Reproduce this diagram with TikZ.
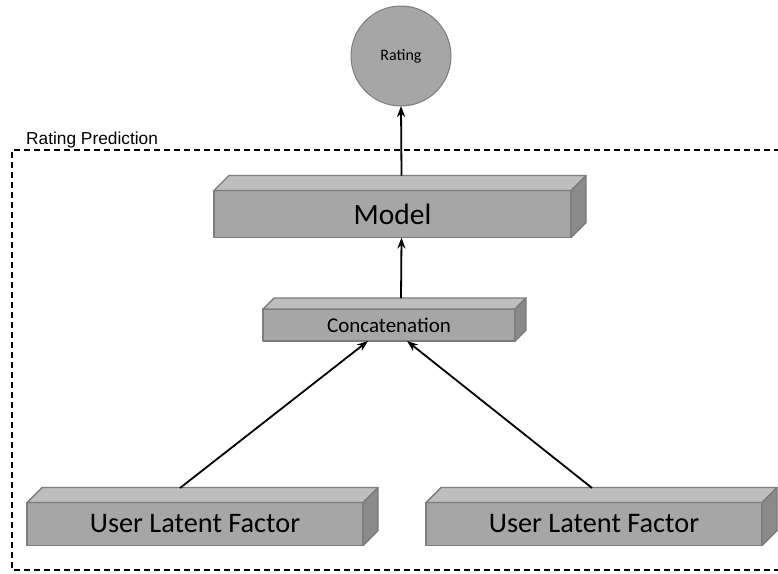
\documentclass[tikz,border=0pt]{standalone}
\usepackage{fontspec}
\setmainfont{Carlito}
\newfontfamily\arialfont{Liberation Sans}
\usetikzlibrary{arrows.meta}
\definecolor{frontc}{HTML}{A6A6A6}
\definecolor{topc}{HTML}{BEBEBE}
\definecolor{sidec}{HTML}{8A8A8A}
\definecolor{edgec}{HTML}{7C7C7C}
\tikzset{
  face/.style={draw=edgec, line width=1.4pt, line join=round},
  frontbox/.style={face, fill=frontc, rectangle, inner sep=0pt, outer sep=0pt, text=black},
  conn/.style={line width=1.8pt, -{Stealth[length=11pt,width=8pt]}},
  frame/.style={line width=1.1pt, dash pattern=on 6pt off 4pt},
}
% #1 name, #2 d (depth)
\newcommand\prismfaces[2]{%
  \filldraw[face, fill=topc] (#1.north west) -- ([shift={(#2,-#2)}]#1.north west) -- ([shift={(#2,-#2)}]#1.north east) -- (#1.north east) -- cycle;
  \filldraw[face, fill=sidec] (#1.north east) -- ([shift={(#2,-#2)}]#1.north east) -- ([shift={(#2,-#2)}]#1.south east) -- (#1.south east) -- cycle;
}
\begin{document}
\begin{tikzpicture}[x=1pt,y=-1pt]
\useasboundingbox (0,0) rectangle (778,573);
% frame
\draw[frame] (790,150) -- (12,150) -- (12,570) -- (790,570);
\node[anchor=base west, inner sep=0pt, font=\arialfont\fontsize{17.3}{19}\selectfont] (lbl) at (26,144) {Rating Prediction};
% rating circle
\node[circle, draw=edgec, line width=1pt, fill=frontc, minimum size=100pt, inner sep=0pt, outer sep=0pt, font=\fontsize{16}{18}\selectfont] (rating) at (401,56) {Rating};
% model
\node[frontbox, minimum width=357pt, minimum height=47pt, font=\fontsize{29.5}{32}\selectfont] (model) at (392.5,214) {Model};
\prismfaces{model}{15}
\coordinate (modeltop) at ([shift={(9,-15)}]model.north);
% concatenation
\node[frontbox, minimum width=252pt, minimum height=32pt, font=\fontsize{21}{24}\selectfont] (concat) at (389,325) {Concatenation};
\prismfaces{concat}{11}
\coordinate (concattop) at ([shift={(12,-11)}]concat.north);
% user latent factors
\node[frontbox, minimum width=336pt, minimum height=43pt, font=\fontsize{28.3}{31}\selectfont] (ulf1) at (195,524) {User Latent Factor};
\prismfaces{ulf1}{15}
\node[frontbox, minimum width=336pt, minimum height=43pt, font=\fontsize{28.3}{31}\selectfont] (ulf2) at (594,524) {User Latent Factor};
\prismfaces{ulf2}{15}
\coordinate (u1top) at (180,488);
\coordinate (u2top) at (592,488);
\coordinate (c1) at (368,341);
\coordinate (c2) at (407,341);
% connectors
\draw[conn] (modeltop) -- (rating.south);
\draw[conn] (concattop) -- ([xshift=9pt]model.south);
\draw[conn] (u1top) -- (c1);
\draw[conn] (u2top) -- (c2);
\end{tikzpicture}
\end{document}
